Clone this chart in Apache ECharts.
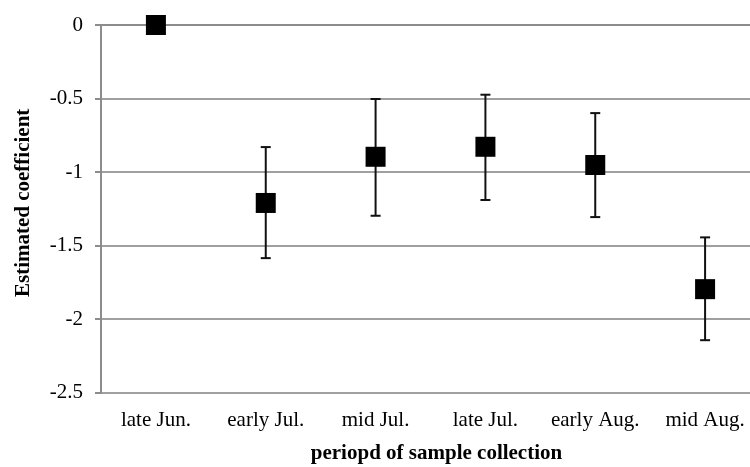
<!DOCTYPE html>
<html>
<head>
<meta charset="utf-8">
<script src="https://cdn.jsdelivr.net/npm/echarts@6/dist/echarts.min.js"></script>
<style>html,body{margin:0;padding:0;background:#fff}#c{width:750px;height:467px}</style>
</head>
<body>
<div id="c"></div>
<script>
var categories = ['late Jun.', 'early Jul.', 'mid Jul.', 'late Jul.', 'early Aug.', 'mid Aug.'];
var estimates = [0, -1.21, -0.896, -0.828, -0.952, -1.796];
var upper = [null, -0.830, -0.503, -0.474, -0.599, -1.444];
var lower = [null, -1.585, -1.297, -1.190, -1.306, -2.143];
var yTicks = [0, -0.5, -1, -1.5, -2, -2.5];

var errData = [];
for (var i = 0; i < categories.length; i++) {
  if (upper[i] !== null) errData.push([i, lower[i], upper[i]]);
}

var font = '"Liberation Serif", "Times New Roman", serif';
var chart = echarts.init(document.getElementById('c'), null, {renderer: 'canvas'});
chart.setOption({
  animation: false,
  grid: {left: 101, width: 659, top: 25, bottom: 74.3, containLabel: false, outerBoundsMode: 'none'},
  xAxis: {
    type: 'category',
    data: categories,
    boundaryGap: true,
    axisLine: {show: true, lineStyle: {color: '#8c8c8c', width: 2}},
    axisTick: {show: false},
    axisLabel: {fontFamily: font, fontSize: 21, color: '#000', margin: 17, interval: 0},
    name: 'periopd of sample collection',
    nameLocation: 'middle',
    nameGap: 50,
    nameTextStyle: {fontFamily: font, fontSize: 21, fontWeight: 'bold', color: '#000', padding: [0, 0, 0, 12]}
  },
  yAxis: {
    type: 'value',
    min: yTicks[yTicks.length - 1],
    max: yTicks[0],
    interval: 0.5,
    axisLine: {show: true, lineStyle: {color: '#8c8c8c', width: 2}},
    axisTick: {show: true, length: 6, lineStyle: {color: '#8c8c8c', width: 2}},
    splitLine: {show: true, lineStyle: {color: '#a0a0a0', width: 2}},
    axisLabel: {fontFamily: font, fontSize: 21, color: '#000', margin: 18,
      formatter: function (v) { return String(Math.round(v * 10) / 10); }},
    name: 'Estimated coefficient',
    nameLocation: 'middle',
    nameGap: 67,
    nameRotate: 90,
    nameTextStyle: {fontFamily: font, fontSize: 21, fontWeight: 'bold', color: '#000', padding: [0, 0, 0, 12]}
  },
  series: [
    {
      type: 'custom',
      data: errData,
      z: 3,
      renderItem: function (params, api) {
        var x = api.value(0);
        var lo = api.coord([x, api.value(1)]);
        var hi = api.coord([x, api.value(2)]);
        var hw = 5;
        var st = {stroke: '#111', lineWidth: 2};
        return {
          type: 'group',
          children: [
            {type: 'line', shape: {x1: lo[0], y1: lo[1], x2: hi[0], y2: hi[1]}, style: st},
            {type: 'line', shape: {x1: lo[0] - hw, y1: lo[1], x2: lo[0] + hw, y2: lo[1]}, style: st},
            {type: 'line', shape: {x1: hi[0] - hw, y1: hi[1], x2: hi[0] + hw, y2: hi[1]}, style: st}
          ]
        };
      }
    },
    {
      type: 'scatter',
      data: estimates,
      symbol: 'rect',
      symbolSize: 20,
      z: 5,
      itemStyle: {color: '#000', opacity: 1}
    }
  ]
});
</script>
</body>
</html>
